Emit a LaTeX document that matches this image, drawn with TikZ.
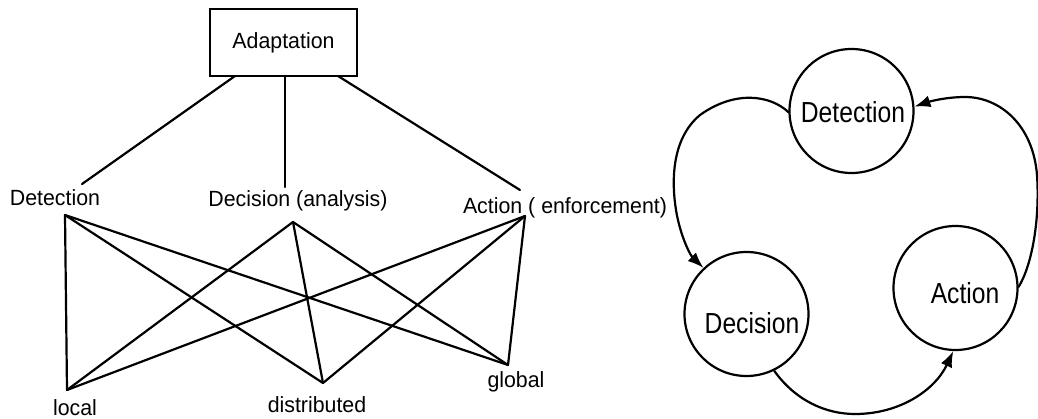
\documentclass[tikz,border=0pt]{standalone}
\usepackage{fontspec}
\setmainfont{Liberation Sans}[FakeStretch=0.97]
\newfontfamily\circfont{Liberation Sans}[FakeStretch=0.85]
\usetikzlibrary{arrows.meta}
\begin{document}
\begin{tikzpicture}[x=1pt,y=-1pt,
  ln/.style={line width=2.2pt,line cap=round,line join=round},
  lbl/.style={inner sep=0pt,anchor=base,font=\fontsize{22}{26}\selectfont},
  clbl/.style={inner sep=0pt,anchor=base,font=\circfont\fontsize{29}{33}\selectfont},
  circ/.style={circle,draw,line width=2.2pt,minimum size=124pt,inner sep=0pt},
  arr/.style={ln,-{Latex[length=16pt,width=12pt]}}]
\useasboundingbox (0,0) rectangle (1038,418);
\fill[white] (0,0) rectangle (1038,418);
% Adaptation box
\node[draw,line width=2.2pt,minimum width=147pt,minimum height=67pt,inner sep=0pt] (adapt) at (283.5,42.5) {};
\node[lbl] (adaptt) at (283.5,48) {Adaptation};
% top labels
\node[lbl] (detl) at (55,205) {Detection};
\node[lbl] (decl) at (298,206) {Decision (analysis)};
\node[lbl] (actl) at (565,213) {Action ( enforcement)};
% endpoints of upper lines
\coordinate (aL) at (235,76);
\coordinate (aM) at (285,76);
\coordinate (aR) at (338,76);
\coordinate (tL) at (82,184);
\coordinate (tM) at (285,187);
\coordinate (tR) at (520,190);
\draw[ln] (aL) -- (tL);
\draw[ln] (aM) -- (tM);
\draw[ln] (aR) -- (tR);
% lower network
\coordinate (pDet) at (65,215);
\coordinate (pDec) at (293,222);
\coordinate (pAct) at (525,216);
\coordinate (pLoc) at (67,390);
\coordinate (pDis) at (323,383);
\coordinate (pGlo) at (508,365);
\foreach \a in {pDet,pDec,pAct}{
  \foreach \b in {pLoc,pDis,pGlo}{
    \draw[ln] (\a) -- (\b);
  }
}
\node[lbl] (locl) at (75,415) {local};
\node[lbl] (disl) at (317,412) {distributed};
\node[lbl] (glol) at (516,387) {global};
% right cycle
\node[circ] (cdet) at (851.5,111) {};
\node[circ] (cdec) at (746.5,314) {};
\node[circ] (cact) at (955.5,288) {};
\node[clbl] (cdett) at (853,122) {Detection};
\node[clbl] (cdect) at (752,333) {Decision};
\node[clbl] (cactt) at (965,303) {Action};
\draw[arr] (cdet.181) .. controls (770,95) and (735,90) .. (700,115)
  .. controls (670,140) and (672,185) .. (676,210)
  .. controls (680,235) and (690,255) .. (cdec.133);
\draw[arr] (cdec.-64) .. controls (795,400) and (825,414) .. (855,414)
  .. controls (900,414) and (935,390) .. (cact.-92);
\draw[arr] (cact.1) .. controls (1032,265) and (1040,220) .. (1037,175)
  .. controls (1033,125) and (1000,97) .. (965,97)
  .. controls (945,97) and (928,102) .. (cdet.4);
\end{tikzpicture}
\end{document}
